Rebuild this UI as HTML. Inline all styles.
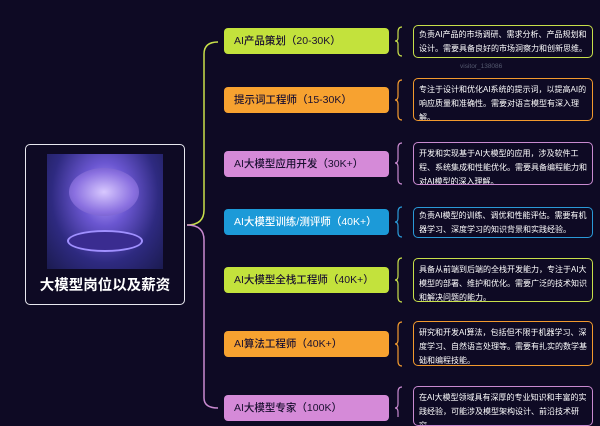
<!DOCTYPE html>
<html><head><meta charset="utf-8"><style>
body{margin:0;width:600px;height:417px;overflow:hidden;background:#0e0a24;font-family:"Liberation Sans","Noto Sans CJK SC",sans-serif;position:relative}
.r{position:absolute;left:224px;width:165px;height:26px;border-radius:4px;color:#1a1030;font-size:10.5px;line-height:26px;padding-left:10px;box-sizing:border-box;font-weight:500}
.d{position:absolute;left:413px;width:180px;border:1.5px solid;border-radius:5px;color:#fff;font-size:8px;line-height:14px;padding:4px 3px 3px 5px;box-sizing:border-box;overflow:hidden}
svg{position:absolute;left:0;top:0}
</style></head><body>
<svg width="600" height="417">
<path d="M187 225 Q204 225 204 210 L204 54 Q204 42 218 42" stroke="#c8e04a" stroke-width="1.5" fill="none"/>
<path d="M187 225 Q204 225 204 240 L204 398 Q204 408 218 408" stroke="#c98ad0" stroke-width="1.5" fill="none"/>
<g fill="none" stroke-width="1.2">
<path d="M402 27 Q398 27 398 32 L398 38 Q398 41 395 41 Q398 41 398 44 L398 51 Q398 56 402 56" stroke="#c8e04a"/>
<path d="M402 80 Q398 80 398 85 L398 96 Q398 100 395 100 Q398 100 398 104 L398 115 Q398 120 402 120" stroke="#f29a2e"/>
<path d="M402 143 Q398 143 398 148 L398 159 Q398 163 395 163 Q398 163 398 167 L398 179 Q398 184 402 184" stroke="#c98ad0"/>
<path d="M402 207 Q398 207 398 212 L398 218 Q398 222 395 222 Q398 222 398 226 L398 232 Q398 237 402 237" stroke="#2a9ad8"/>
<path d="M402 258 Q398 258 398 263 L398 276 Q398 280 395 280 Q398 280 398 284 L398 297 Q398 302 402 302" stroke="#c8e04a"/>
<path d="M402 322 Q398 322 398 327 L398 340 Q398 344 395 344 Q398 344 398 348 L398 361 Q398 366 402 366" stroke="#f29a2e"/>
<path d="M402 387 Q398 387 398 392 L398 404 Q398 408 395 408 Q398 408 398 412 L398 420" stroke="#c98ad0"/>
</g>
</svg>
<div style="position:absolute;left:25px;top:144px;width:160px;height:161px;border:1.5px solid #e8e8f0;border-radius:5px;box-sizing:border-box"></div>
<div style="position:absolute;left:47px;top:154px;width:116px;height:115px;background:radial-gradient(ellipse at 50% 35%,#b9a0ff 0%,#6a56d0 30%,#2e2a80 65%,#1b1b50 100%)">
<div style="position:absolute;left:22px;top:14px;width:70px;height:48px;border-radius:50%;background:radial-gradient(#d8c8ff,#8a70e0 60%,#5a4cb0)"></div>
<div style="position:absolute;left:20px;top:76px;width:76px;height:22px;border-radius:50%;border:2px solid #a090ff;box-sizing:border-box;background:#3a2c90"></div>
</div>
<div style="position:absolute;left:25px;top:274px;width:160px;text-align:center;color:#fff;font-size:14.5px;font-weight:bold">大模型岗位以及薪资</div>
<div class="r" style="top:28px;background:#c3e23c">AI产品策划（20-30K）</div>
<div class="r" style="top:87px;background:#f7a230">提示词工程师（15-30K）</div>
<div class="r" style="top:151px;background:#d58ad8">AI大模型应用开发（30K+）</div>
<div class="r" style="top:209px;background:#1c9ad8;color:#fff">AI大模型训练/测评师（40K+）</div>
<div class="r" style="top:267px;background:#c3e23c">AI大模型全栈工程师（40K+）</div>
<div class="r" style="top:331px;background:#f7a230">AI算法工程师（40K+）</div>
<div class="r" style="top:395px;background:#d58ad8">AI大模型专家（100K）</div>
<div class="d" style="top:25px;height:33px;padding-top:2px;border-color:#c8e04a">负责AI产品的市场调研、需求分析、产品规划和设计。需要具备良好的市场洞察力和创新思维。</div>
<div style="position:absolute;left:460px;top:63px;color:#555a70;font-size:6.5px">visitor_138086</div>
<div class="d" style="top:78px;height:43px;border-color:#f29a2e">专注于设计和优化AI系统的提示词，以提高AI的响应质量和准确性。需要对语言模型有深入理解。</div>
<div class="d" style="top:142px;height:43px;border-color:#c98ad0">开发和实现基于AI大模型的应用，涉及软件工程、系统集成和性能优化。需要具备编程能力和对AI模型的深入理解。</div>
<div class="d" style="top:207px;height:31px;padding-top:1px;border-color:#2a9ad8">负责AI模型的训练、调优和性能评估。需要有机器学习、深度学习的知识背景和实践经验。</div>
<div class="d" style="top:258px;height:44px;border-color:#c8e04a">具备从前端到后端的全栈开发能力，专注于AI大模型的部署、维护和优化。需要广泛的技术知识和解决问题的能力。</div>
<div class="d" style="top:321px;height:45px;border-color:#f29a2e">研究和开发AI算法，包括但不限于机器学习、深度学习、自然语言处理等。需要有扎实的数学基础和编程技能。</div>
<div class="d" style="top:386px;height:40px;border-color:#c98ad0">在AI大模型领域具有深厚的专业知识和丰富的实践经验，可能涉及模型架构设计、前沿技术研究。</div>
</body></html>
